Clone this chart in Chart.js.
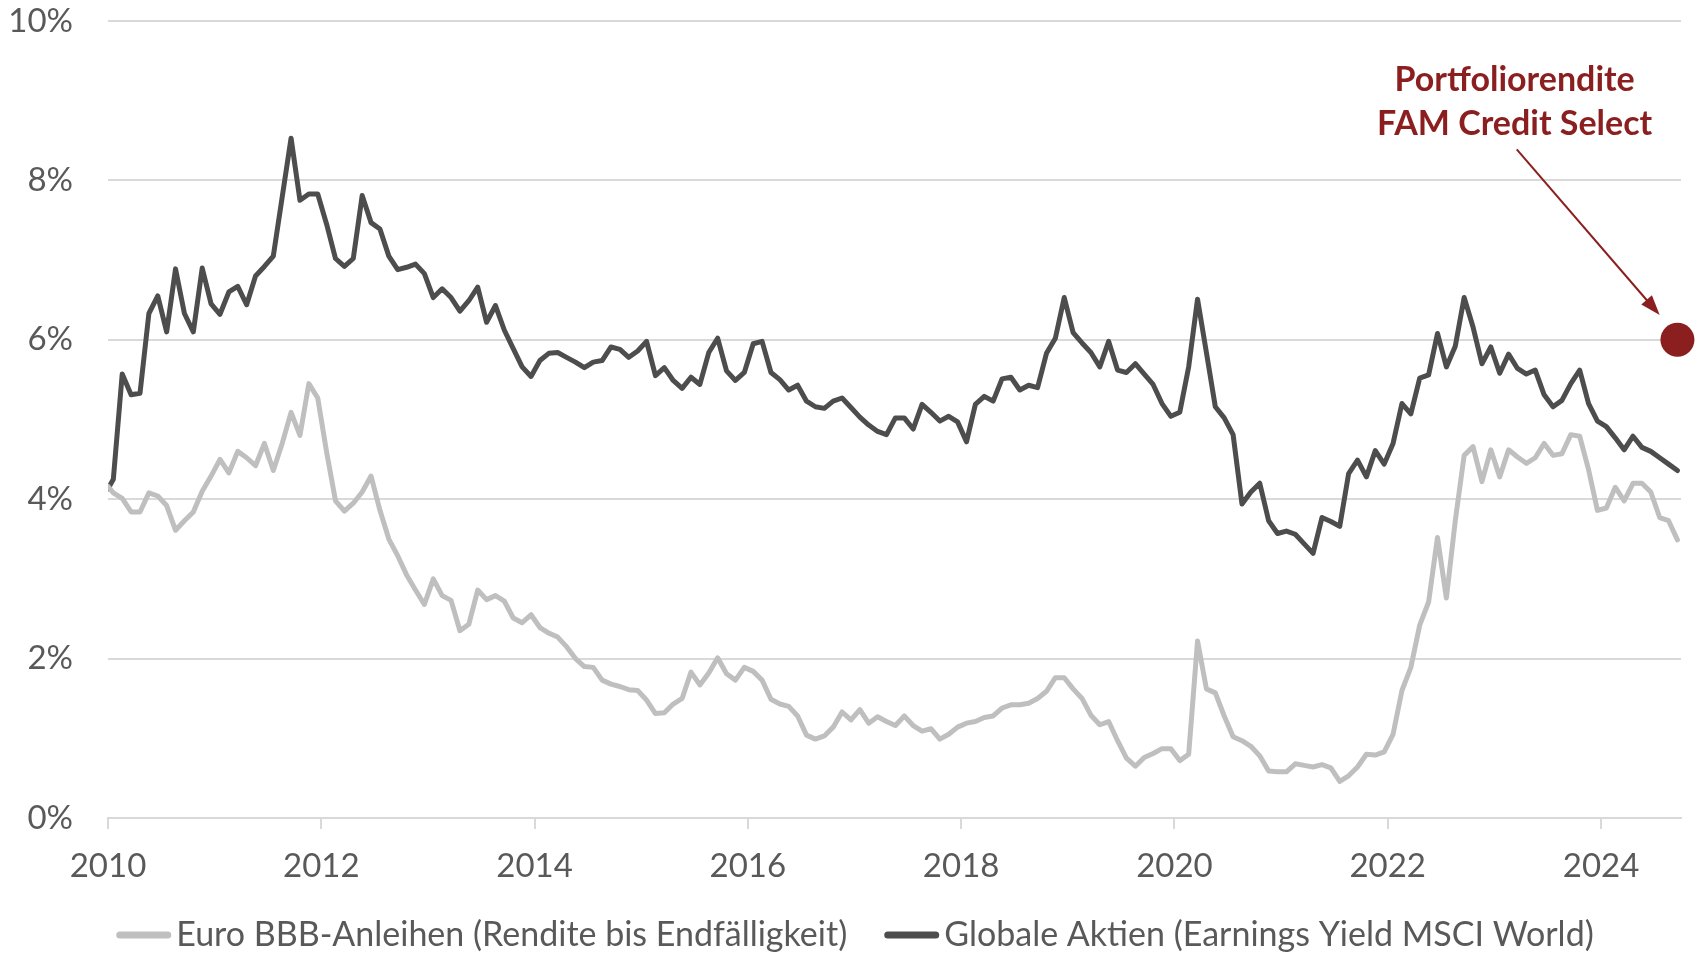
<!DOCTYPE html>
<html><head><meta charset="utf-8">
<script src="https://cdn.jsdelivr.net/npm/chart.js@4.4.1/dist/chart.umd.min.js"></script>
<style>html,body{margin:0;padding:0;background:#fff;overflow:hidden}</style>
</head><body>
<canvas id="c" width="1698" height="956" style="display:block;width:1698px;height:956px"></canvas>
<script>
// monthly observations, Jan 2010 .. Sep 2024 (first value = start of axis)
const bbbYield = [4.16,
4.08,4.01,3.84,3.84,4.08,4.04,3.92,3.61,3.73,3.84,4.10,4.29,
4.50,4.33,4.60,4.52,4.42,4.70,4.36,4.70,5.09,4.80,5.45,5.27,
4.59,3.98,3.85,3.95,4.09,4.29,3.86,3.50,3.29,3.05,2.86,2.68,
3.00,2.79,2.73,2.35,2.43,2.86,2.74,2.79,2.72,2.51,2.45,2.55,
2.39,2.32,2.27,2.15,2.00,1.90,1.89,1.73,1.68,1.65,1.61,1.60,
1.48,1.31,1.32,1.43,1.50,1.83,1.67,1.82,2.01,1.81,1.73,1.89,
1.84,1.73,1.49,1.43,1.40,1.28,1.04,0.99,1.03,1.14,1.33,1.23,
1.36,1.19,1.27,1.21,1.16,1.28,1.16,1.09,1.12,0.99,1.05,1.14,
1.19,1.21,1.26,1.28,1.38,1.42,1.42,1.44,1.50,1.59,1.76,1.76,
1.62,1.50,1.29,1.17,1.21,0.97,0.75,0.65,0.76,0.81,0.87,0.87,
0.72,0.80,2.22,1.62,1.57,1.28,1.02,0.97,0.90,0.78,0.59,0.58,
0.58,0.68,0.66,0.64,0.67,0.63,0.46,0.53,0.64,0.80,0.79,0.83,
1.05,1.60,1.89,2.42,2.71,3.52,2.76,3.73,4.55,4.66,4.22,4.62,
4.28,4.62,4.53,4.45,4.52,4.70,4.55,4.57,4.81,4.79,4.37,3.86,
3.89,4.15,3.98,4.20,4.20,4.09,3.77,3.73,3.49];
const equityYield = [4.13,
4.25,5.57,5.31,5.33,6.33,6.55,6.10,6.89,6.33,6.10,6.90,6.45,
6.32,6.60,6.67,6.44,6.80,6.92,7.05,7.79,8.53,7.75,7.83,7.83,
7.45,7.02,6.92,7.02,7.81,7.47,7.39,7.05,6.88,6.91,6.95,6.83,
6.53,6.64,6.53,6.36,6.49,6.66,6.22,6.43,6.12,5.89,5.66,5.54,
5.74,5.83,5.84,5.78,5.72,5.65,5.72,5.74,5.91,5.88,5.78,5.86,
5.98,5.55,5.65,5.49,5.39,5.53,5.44,5.84,6.02,5.61,5.49,5.59,
5.95,5.98,5.59,5.50,5.37,5.43,5.23,5.16,5.14,5.23,5.27,5.15,
5.03,4.93,4.85,4.81,5.02,5.02,4.88,5.19,5.09,4.98,5.04,4.97,
4.72,5.19,5.29,5.23,5.51,5.53,5.37,5.43,5.40,5.83,6.02,6.53,
6.09,5.96,5.84,5.66,5.98,5.62,5.59,5.70,5.57,5.44,5.20,5.04,
5.09,5.66,6.51,5.84,5.16,5.02,4.81,3.94,4.09,4.20,3.73,3.57,
3.60,3.56,3.44,3.32,3.77,3.72,3.66,4.32,4.49,4.28,4.61,4.44,
4.70,5.20,5.07,5.52,5.56,6.08,5.66,5.92,6.53,6.16,5.70,5.91,
5.58,5.82,5.64,5.57,5.62,5.31,5.16,5.24,5.45,5.62,5.20,4.98,
4.91,4.77,4.62,4.79,4.65,4.60,4.52,4.44,4.36];
const portfolioYield = 6.0;
const seriesNames = ['Euro BBB-Anleihen (Rendite bis Endfälligkeit)', 'Globale Aktien (Earnings Yield MSCI World)'];
const annotationLines = ['Portfoliorendite', 'FAM Credit Select'];
const xTickYears = [2010, 2012, 2014, 2016, 2018, 2020, 2022, 2024];
const yTickValues = [0, 2, 4, 6, 8, 10];

// time positions (decimal years) for each observation
const firstYear = 2010, monthShift = 0.6;
const times = bbbYield.map((_, k) => k === 0 ? firstYear : firstYear + (k - 1 + monthShift) / 12);
const lastTime = times[times.length - 1];

const COL_GREY = '#BFBFBF', COL_DARK = '#4D4D4D', COL_RED = '#8B1F1F', COL_TEXT = '#595959', COL_GRID = '#D9D9D9';
const FONT = 'Lato, "Open Sans", sans-serif';
Chart.defaults.font.family = FONT;
Chart.defaults.color = COL_TEXT;

const annotationPlugin = {
  id: 'annot',
  afterDatasetsDraw(chart) {
    const {ctx, scales: {x, y}} = chart;
    ctx.save();
    ctx.fillStyle = COL_RED;
    ctx.font = 'bold 34px ' + FONT;
    ctx.textAlign = 'center';
    ctx.textBaseline = 'alphabetic';
    const tx = x.getPixelForValue(2023.19);
    ctx.fillText(annotationLines[0], tx, y.getPixelForValue(9.12));
    ctx.fillText(annotationLines[1], tx, y.getPixelForValue(8.57));
    const x1 = x.getPixelForValue(2023.21), y1 = y.getPixelForValue(8.39);
    const x2 = x.getPixelForValue(2024.55), y2 = y.getPixelForValue(6.31);
    const ang = Math.atan2(y2 - y1, x2 - x1);
    const hl = 20, hw = 7;
    ctx.strokeStyle = COL_RED; ctx.lineWidth = 2;
    ctx.beginPath(); ctx.moveTo(x1, y1);
    ctx.lineTo(x2 - hl * 0.8 * Math.cos(ang), y2 - hl * 0.8 * Math.sin(ang)); ctx.stroke();
    ctx.beginPath();
    ctx.moveTo(x2, y2);
    ctx.lineTo(x2 - hl * Math.cos(ang) + hw * Math.sin(ang), y2 - hl * Math.sin(ang) - hw * Math.cos(ang));
    ctx.lineTo(x2 - hl * Math.cos(ang) - hw * Math.sin(ang), y2 - hl * Math.sin(ang) + hw * Math.cos(ang));
    ctx.closePath(); ctx.fill();
    ctx.restore();
  }
};

// legend drawn below the axis: short line marker + text for the two line series
const legendPlugin = {
  id: 'bottomLegend',
  afterDraw(chart) {
    const {ctx} = chart;
    const items = chart.data.datasets.slice(0, 2).map(d => ({text: d.label, color: d.borderColor}));
    const mark = 55, gapIn = 5, gapOut = 37, cy = chart.height - 21, cx = 855;
    ctx.save();
    ctx.font = '34px ' + FONT;
    const widths = items.map(it => ctx.measureText(it.text).width);
    const total = widths.reduce((a, w) => a + mark + gapIn + w, 0) + gapOut * (items.length - 1);
    let xx = cx - total / 2;
    items.forEach((it, k) => {
      ctx.strokeStyle = it.color; ctx.lineWidth = 7; ctx.lineCap = 'round';
      ctx.beginPath(); ctx.moveTo(xx + 3.5, cy); ctx.lineTo(xx + mark - 3.5, cy); ctx.stroke();
      xx += mark + gapIn;
      ctx.fillStyle = COL_TEXT; ctx.textAlign = 'left'; ctx.textBaseline = 'middle';
      ctx.fillText(it.text, xx, cy);
      xx += widths[k] + gapOut;
    });
    ctx.restore();
  }
};

new Chart(document.getElementById('c'), {
  type: 'line',
  data: {
    datasets: [
      { label: seriesNames[0], data: times.map((t, k) => ({x: t, y: bbbYield[k]})),
        borderColor: COL_GREY, backgroundColor: COL_GREY, borderWidth: 5, pointRadius: 0,
        tension: 0, borderJoinStyle: 'round', borderCapStyle: 'round' },
      { label: seriesNames[1], data: times.map((t, k) => ({x: t, y: equityYield[k]})),
        borderColor: COL_DARK, backgroundColor: COL_DARK, borderWidth: 5, pointRadius: 0,
        tension: 0, borderJoinStyle: 'round', borderCapStyle: 'round' },
      { label: annotationLines[0], data: [{x: lastTime, y: portfolioYield}], showLine: false,
        pointRadius: 17, pointHoverRadius: 17, pointBackgroundColor: COL_RED, pointBorderColor: COL_RED,
        pointBorderWidth: 0, clip: false }
    ]
  },
  options: {
    responsive: false, animation: false, devicePixelRatio: 1,
    events: [],
    layout: { padding: { top: 21, right: 13, left: 0, bottom: 68 } },
    plugins: { tooltip: { enabled: false }, legend: { display: false } },
    scales: {
      x: {
        type: 'linear', min: 2010, max: 2024.75,
        afterBuildTicks: s => { s.ticks = xTickYears.map(v => ({value: v})); },
        afterFit: s => { s.height = 70; s.paddingLeft = 0; s.paddingRight = 0; },
        ticks: { font: { size: 33 }, color: COL_TEXT, padding: 18, maxRotation: 0, callback: v => String(v) },
        grid: { drawOnChartArea: false, drawTicks: true, tickLength: 11, color: COL_GRID, lineWidth: 2 },
        border: { display: true, color: COL_GRID, width: 2 }
      },
      y: {
        min: 0, max: 10,
        afterBuildTicks: s => { s.ticks = yTickValues.map(v => ({value: v})); },
        afterFit: s => { s.width = 108; s.paddingTop = 20; s.paddingBottom = 20; },
        ticks: { font: { size: 33 }, color: COL_TEXT, padding: 35, callback: v => v + '%' },
        grid: { color: COL_GRID, lineWidth: 2, drawTicks: false },
        border: { display: false }
      }
    }
  },
  plugins: [annotationPlugin, legendPlugin]
});
</script>
</body></html>
